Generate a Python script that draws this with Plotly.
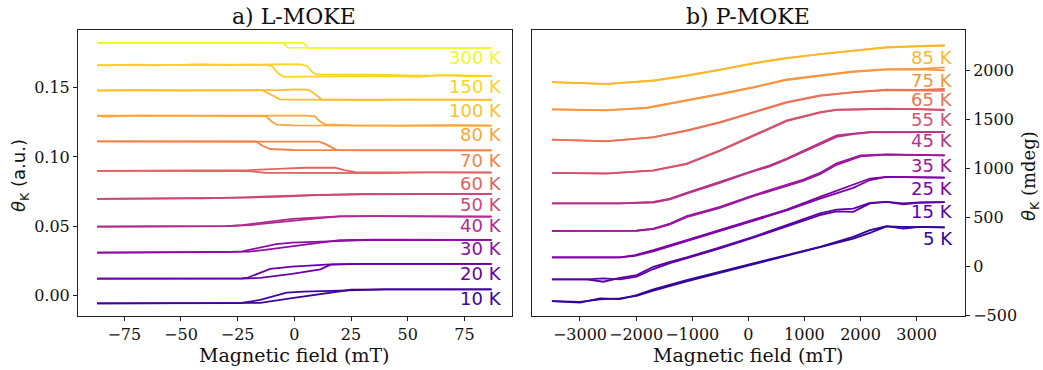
import plotly.graph_objects as go

# ---------------- L-MOKE (longitudinal) loops, theta_K in a.u. ----------------
lmoke_temps = ["10 K", "20 K", "30 K", "40 K", "50 K", "60 K", "70 K", "80 K", "100 K", "150 K", "300 K"]
lmoke_colors = ["#41049d", "#6a00a8", "#8f0da4", "#b12a90", "#cc4778", "#e16462",
                "#f2844b", "#fca636", "#fdbf2c", "#fcd225", "#f0f921"]
lmoke_label_y = [-0.0019, 0.0157, 0.0337, 0.0503, 0.0660, 0.0812, 0.0975, 0.1165, 0.1334, 0.1505, 0.1714]

# sweep branch A (x list, y list) per temperature
lmoke_a_x = [
    [-87, -50, -24, -15, -3.4, 4, 15, 22, 40, 60, 87],
    [-87, -50, -23, -21, -15, -10.6, -1, 11.5, 16, 30, 60, 87],
    [-87, -50, -30, -23, -15, -8, -1, 11.5, 20, 35, 60, 87],
    [-87, -50, -30, -23, -10, -1, 13.5, 20, 35, 60, 87],
    [-87, -60, -40, -20, -5, 10, 30, 60, 87],
    [-87, -60, -30, -20, -13, 0, 20, 40, 60, 87],
    [-87, -60, -40, -25, -17, -14, -10.7, 0, 20, 40, 60, 87],
    [-87, -84, -70, -50, -30, -15, -12.5, -10, -7.8, 0, 20, 40, 60, 87],
    [-87, -70, -50, -35, -20, -14, -10, -6.3, 0, 10, 20, 35, 50, 65, 80, 87],
    [-87, -70, -55, -40, -30, -20, -12, -10, -7, -4.7, 5, 15, 25, 40, 55, 65, 75, 87],
    [-87, -40, -5, -3, 87],
]
lmoke_a_y = [
    [-0.0055, -0.0056, -0.0053, -0.0030, 0.0022, 0.0030, 0.0035, 0.0043, 0.0046, 0.0046, 0.0046],
    [0.0123, 0.0122, 0.0125, 0.0128, 0.0165, 0.0193, 0.0209, 0.0220, 0.0226, 0.0229, 0.0228, 0.0229],
    [0.0311, 0.0313, 0.0314, 0.0320, 0.0350, 0.0372, 0.0383, 0.0390, 0.0400, 0.0403, 0.0401, 0.0402],
    [0.0498, 0.0500, 0.0502, 0.0508, 0.0538, 0.0554, 0.0566, 0.0572, 0.0573, 0.0571, 0.0570],
    [0.0698, 0.0699, 0.0702, 0.0710, 0.0718, 0.0727, 0.0732, 0.0734, 0.0734],
    [0.0900, 0.0898, 0.0901, 0.0897, 0.0886, 0.0885, 0.0887, 0.0884, 0.0888, 0.0887],
    [0.1112, 0.1111, 0.1113, 0.1112, 0.1111, 0.1080, 0.1057, 0.1050, 0.1048, 0.1047, 0.1049, 0.1047],
    [0.1297, 0.1290, 0.1298, 0.1296, 0.1298, 0.1296, 0.1293, 0.1255, 0.1232, 0.1228, 0.1226, 0.1227, 0.1225, 0.1225],
    [0.1478, 0.1482, 0.1478, 0.1481, 0.1480, 0.1479, 0.1445, 0.1415, 0.1413, 0.1411, 0.1414, 0.1410, 0.1413, 0.1411, 0.1414, 0.1411],
    [0.1660, 0.1664, 0.1661, 0.1666, 0.1660, 0.1664, 0.1661, 0.1655, 0.1600, 0.1577, 0.1578, 0.1580, 0.1577, 0.1582, 0.1576, 0.1590, 0.1583, 0.1581],
    [0.1822, 0.1823, 0.1822, 0.1788, 0.1786],
]

# sweep branch B (x list, y list) per temperature
lmoke_b_x = [
    [-87, -50, -25, -15, -1, 13.5, 25, 40, 60, 87],
    [-87, -50, -23, -15, -1, 11.5, 16, 30, 60, 87],
    [-87, -50, -30, -20, -13, -1, 12, 20, 35, 60, 87],
    [-87, -50, -30, -20, -10, -1, 10, 20, 35, 60, 87],
    [-87, -60, -40, -20, -5, 10, 30, 60, 87],
    [-87, -50, -20, -5, 5, 18, 22, 27, 40, 60, 87],
    [-87, -50, -20, 0, 11, 14, 18.7, 30, 50, 70, 87],
    [-87, -60, -30, -10, 0, 5, 9, 11, 13.5, 25, 50, 70, 87],
    [-87, -60, -40, -20, -5, 0, 5, 7, 10, 12, 20, 40, 60, 87],
    [-87, -60, -45, -30, -15, -5, 3, 5.5, 8, 10, 20, 35, 50, 60, 70, 80, 87],
    [-87, 4, 6, 87],
]
lmoke_b_y = [
    [-0.0055, -0.0055, -0.0054, -0.0052, -0.0017, 0.0017, 0.0043, 0.0046, 0.0047, 0.0046],
    [0.0123, 0.0121, 0.0124, 0.0128, 0.0157, 0.0190, 0.0224, 0.0229, 0.0228, 0.0229],
    [0.0311, 0.0312, 0.0313, 0.0318, 0.0330, 0.0354, 0.0384, 0.0400, 0.0404, 0.0402, 0.0402],
    [0.0498, 0.0499, 0.0501, 0.0508, 0.0525, 0.0542, 0.0558, 0.0572, 0.0574, 0.0571, 0.0570],
    [0.0698, 0.0700, 0.0701, 0.0707, 0.0715, 0.0725, 0.0731, 0.0735, 0.0734],
    [0.0900, 0.0901, 0.0905, 0.0916, 0.0922, 0.0923, 0.0905, 0.0890, 0.0889, 0.0887, 0.0888],
    [0.1112, 0.1111, 0.1113, 0.1112, 0.1110, 0.1090, 0.1049, 0.1047, 0.1048, 0.1046, 0.1047],
    [0.1297, 0.1298, 0.1296, 0.1297, 0.1301, 0.1298, 0.1292, 0.1260, 0.1234, 0.1228, 0.1226, 0.1229, 0.1225],
    [0.1480, 0.1479, 0.1482, 0.1481, 0.1482, 0.1486, 0.1485, 0.1478, 0.1440, 0.1415, 0.1413, 0.1411, 0.1413, 0.1413],
    [0.1662, 0.1660, 0.1665, 0.1662, 0.1664, 0.1668, 0.1667, 0.1655, 0.1610, 0.1593, 0.1594, 0.1592, 0.1588, 0.1586, 0.1590, 0.1585, 0.1584],
    [0.1822, 0.1822, 0.1786, 0.1786],
]

# ---------------- P-MOKE (polar) loops, theta_K in mdeg ----------------
pmoke_temps = ["5 K", "15 K", "25 K", "35 K", "45 K", "55 K", "65 K", "75 K", "85 K"]
pmoke_colors = ["#350498", "#5c01a6", "#7e03a8", "#9c179e", "#b83289", "#d5536f",
                "#ea7457", "#f89540", "#feb72d"]
pmoke_label_y = [283, 554, 792, 1027, 1285, 1496, 1700, 1897, 2135]

pmoke_a_x = [
    [-3500, -3000, -2643, -2287, -1990, -1693, -1099, -505, 89, 683, 1277, 1871, 2168, 2465, 2762, 3059, 3500],
    [-3500, -2881, -2584, -2287, -1990, -1693, -1396, -1099, -505, 89, 683, 1277, 1574, 1871, 2168, 2465, 2762, 3059, 3500],
    [-3500, -2287, -2020, -1693, -1099, -505, 89, 683, 1277, 1574, 1871, 2168, 2465, 3500],
    [-3500, -1990, -1693, -1396, -1099, -505, 89, 683, 980, 1277, 1574, 2000, 2465, 3500],
    [-3500, -2287, -1693, -1396, -1099, -505, 0, 386, 683, 1277, 1574, 1871, 2168, 3500],
    [-3500, -2525, -1693, -1099, -505, 89, 683, 1277, 1574, 2465, 3059, 3500],
    [-3500, -2525, -1693, -1099, -505, 89, 683, 1277, 1871, 2465, 3059, 3500],
    [-3500, -2525, -1812, -1099, -505, 89, 683, 1277, 1871, 2465, 3059, 3500],
    [-3500, -2525, -1693, -1099, -505, 89, 683, 1277, 1871, 2465, 3059, 3500],
]
pmoke_a_y = [
    [-357, -374, -330, -337, -296, -238, -143, -58, 27, 112, 197, 299, 367, 408, 384, 401, 395],
    [-136, -136, -160, -120, -92, -7, 44, 89, 191, 299, 418, 538, 578, 588, 646, 656, 640, 650, 653],
    [89, 89, 112, 163, 265, 367, 469, 578, 707, 770, 826, 895, 911, 904],
    [360, 362, 384, 435, 510, 605, 724, 826, 884, 952, 1050, 1132, 1142, 1132],
    [640, 640, 656, 690, 748, 860, 962, 1030, 1099, 1252, 1336, 1353, 1370, 1370],
    [952, 945, 979, 1048, 1183, 1336, 1489, 1574, 1598, 1608, 1605, 1600],
    [1292, 1275, 1319, 1387, 1472, 1574, 1676, 1744, 1778, 1802, 1800, 1810],
    [1601, 1591, 1619, 1693, 1761, 1829, 1907, 1948, 1989, 2013, 2016, 2030],
    [1881, 1860, 1897, 1948, 2009, 2074, 2128, 2169, 2203, 2237, 2247, 2258],
]

pmoke_b_x = pmoke_a_x
pmoke_b_y = [
    [-357, -365, -340, -330, -305, -250, -155, -68, 20, 105, 190, 280, 340, 405, 400, 395, 395],
    [-136, -136, -125, -135, -108, -30, 30, 80, 180, 290, 405, 520, 560, 554, 640, 656, 630, 648, 653],
    [89, 90, 105, 150, 255, 358, 460, 568, 690, 745, 800, 880, 911, 904],
    [360, 361, 378, 425, 500, 596, 715, 815, 870, 940, 1035, 1122, 1140, 1132],
    [640, 641, 650, 682, 740, 850, 952, 1020, 1090, 1240, 1320, 1348, 1368, 1370],
    [952, 947, 975, 1042, 1176, 1330, 1482, 1568, 1596, 1606, 1604, 1592],
    [1292, 1277, 1315, 1382, 1467, 1569, 1670, 1740, 1775, 1798, 1796, 1790],
    [1601, 1593, 1615, 1688, 1756, 1824, 1902, 1944, 1985, 2008, 2012, 2000],
    [1881, 1862, 1894, 1944, 2005, 2070, 2124, 2166, 2200, 2234, 2245, 2250],
]

# ---------------- figure ----------------
SERIF = "DejaVu Serif"
SANS = "DejaVu Sans"
W, H = 1043, 370

fig = go.Figure()

for i, name in enumerate(lmoke_temps):
    for xs, ys in ((lmoke_a_x[i], lmoke_a_y[i]), (lmoke_b_x[i], lmoke_b_y[i])):
        fig.add_trace(go.Scatter(x=xs, y=ys, mode="lines", xaxis="x", yaxis="y",
                                 line=dict(color=lmoke_colors[i], width=1.8),
                                 showlegend=False, hoverinfo="skip"))
    fig.add_annotation(x=92.5, y=lmoke_label_y[i], xref="x", yref="y", text=name,
                       showarrow=False, xanchor="right", yanchor="middle",
                       font=dict(family=SANS, size=18, color=lmoke_colors[i]))

for i, name in enumerate(pmoke_temps):
    for xs, ys in ((pmoke_a_x[i], pmoke_a_y[i]), (pmoke_b_x[i], pmoke_b_y[i])):
        fig.add_trace(go.Scatter(x=xs, y=ys, mode="lines", xaxis="x2", yaxis="y2",
                                 line=dict(color=pmoke_colors[i], width=1.8),
                                 showlegend=False, hoverinfo="skip"))
    fig.add_annotation(x=3685, y=pmoke_label_y[i], xref="x2", yref="y2", text=name,
                       showarrow=False, xanchor="right", yanchor="middle",
                       font=dict(family=SANS, size=18, color=pmoke_colors[i]))

axis_common = dict(showgrid=False, zeroline=False, showline=True, linecolor="#222",
                   linewidth=1, mirror=True, ticks="outside", ticklen=4, tickwidth=1,
                   tickcolor="#222", automargin=False, tickangle=0,
                   tickfont=dict(family=SERIF, size=16, color="#111"))

y_dom = [1 - 316 / H, 1 - 29.5 / H]

lx_ticks = [-75, -50, -25, 0, 25, 50, 75]
ly_ticks = [0.0, 0.05, 0.10, 0.15]
px_ticks = [-3000, -2000, -1000, 0, 1000, 2000, 3000]
py_ticks = [-500, 0, 500, 1000, 1500, 2000]


def fmt(v, digits=0):
    s = f"{abs(v):.{digits}f}"
    return ("\u2212" + s) if v < 0 else s


fig.update_layout(
    width=W, height=H, autosize=False, margin=dict(l=0, r=0, t=0, b=0, pad=0),
    paper_bgcolor="white", plot_bgcolor="white",
    xaxis=dict(axis_common, domain=[78 / W, 512 / W], range=[-95.4, 96], anchor="y",
               tickvals=lx_ticks, ticktext=[fmt(v) for v in lx_ticks]),
    yaxis=dict(axis_common, domain=y_dom, range=[-0.0146, 0.1918], anchor="x",
               tickvals=ly_ticks, ticktext=[fmt(v, 2) for v in ly_ticks]),
    xaxis2=dict(axis_common, domain=[532 / W, 965 / W], range=[-3855, 3862], anchor="y2",
                tickvals=px_ticks, ticktext=[fmt(v) for v in px_ticks]),
    yaxis2=dict(axis_common, domain=y_dom, range=[-510, 2418], anchor="x2", side="right",
                tickvals=py_ticks, ticktext=[fmt(v) for v in py_ticks]),
)

# panel titles
fig.add_annotation(x=294 / W, y=1 - 16.5 / H, xref="paper", yref="paper", text="a) L-MOKE",
                   showarrow=False, xanchor="center", yanchor="middle",
                   font=dict(family=SERIF, size=22, color="#111"))
fig.add_annotation(x=748 / W, y=1 - 16.5 / H, xref="paper", yref="paper", text="b) P-MOKE",
                   showarrow=False, xanchor="center", yanchor="middle",
                   font=dict(family=SERIF, size=22, color="#111"))

# x-axis titles
for cx in (294, 748):
    fig.add_annotation(x=cx / W, y=1 - 355 / H, xref="paper", yref="paper",
                       text="Magnetic field (mT)", showarrow=False, borderpad=0,
                       xanchor="center", yanchor="middle",
                       font=dict(family=SERIF, size=19, color="#111"))

# y-axis titles
fig.add_annotation(x=20 / W, y=1 - 176 / H, xref="paper", yref="paper", textangle=-90,
                   text="<i>θ</i><sub>K</sub> (a.u.)", showarrow=False,
                   xanchor="center", yanchor="middle",
                   font=dict(family=SANS, size=18, color="#111"))
fig.add_annotation(x=1030 / W, y=1 - 176 / H, xref="paper", yref="paper", textangle=-90,
                   text=f"<span style='font-family:{SANS}'><i>θ</i><sub>K</sub></span> (mdeg)",
                   showarrow=False, xanchor="center", yanchor="middle",
                   font=dict(family=SERIF, size=18, color="#111"))

fig.write_html("out.html")
